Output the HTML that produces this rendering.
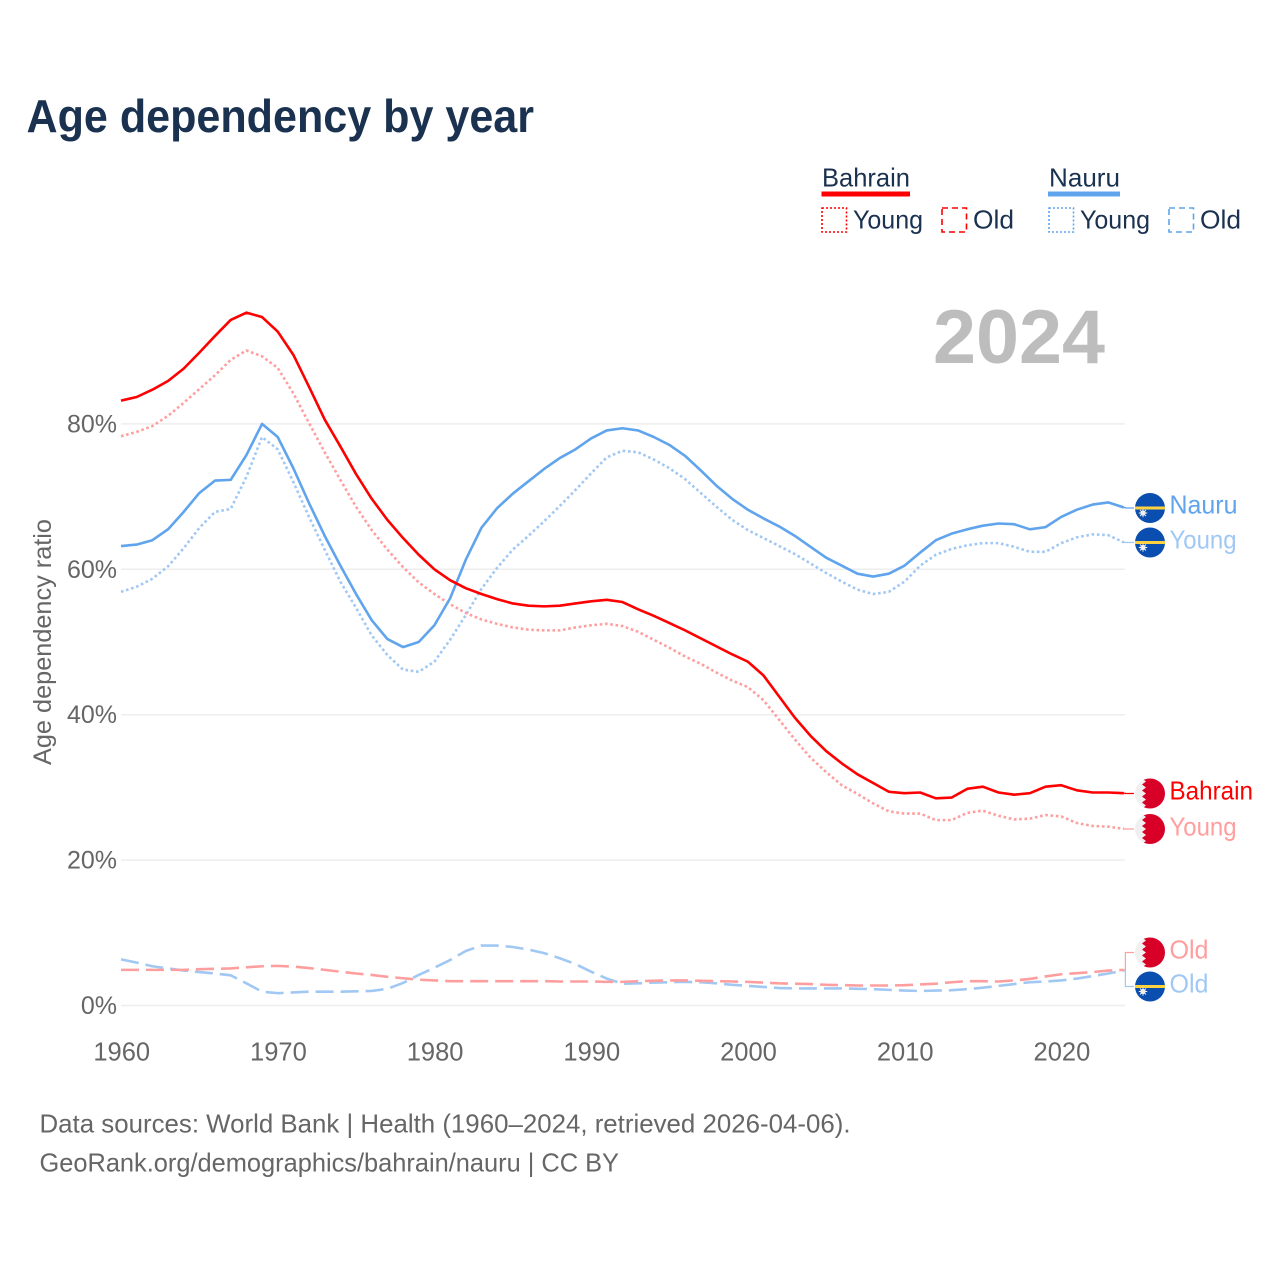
<!DOCTYPE html>
<html lang="en">
<head>
<meta charset="utf-8">
<title>Age dependency by year</title>
<style>
  html, body { margin: 0; padding: 0; background: #fff; }
  svg { display: block; font-family: "Liberation Sans", sans-serif; }
</style>
</head>
<body>
<svg id="chart" width="1280" height="1280" viewBox="0 0 1280 1280" xmlns="http://www.w3.org/2000/svg">
  <defs>
    <clipPath id="flag-clip"><circle cx="0" cy="0" r="15"/></clipPath>
    <symbol id="flag-nauru" overflow="visible">
      <g clip-path="url(#flag-clip)">
        <rect x="-15" y="-15" width="30" height="30" fill="#0a4fb0"/>
        <rect x="-15" y="-1.5" width="30" height="3" fill="#ffd23f"/>
        <circle cx="-7" cy="5" r="2.6" fill="#f0f0f0"/>
        <path d="M-7 0.8V9.2M-11.2 5H-2.8M-10 2L-4 8M-4 2L-10 8" stroke="#f0f0f0" stroke-width="0.9"/>
      </g>
    </symbol>
    <symbol id="flag-bahrain" overflow="visible">
      <g clip-path="url(#flag-clip)">
        <rect x="-15" y="-15" width="30" height="30" fill="#f0f0f0"/>
        <path d="M15 -15V15H-8L-4 12L-8 9L-4 6L-8 3L-4 0L-8 -3L-4 -6L-8 -9L-4 -12L-8 -15Z" fill="#d80027"/>
      </g>
    </symbol>
  </defs>

  <text x="26.5" y="132" font-size="46" font-weight="700" fill="#1a3150" textLength="507.5" lengthAdjust="spacingAndGlyphs">Age dependency by year</text>

  <g>
    <g>
      <text x="822" y="186.5" font-size="26" fill="#1a3150" textLength="88" lengthAdjust="spacingAndGlyphs">Bahrain</text>
      <rect x="821.5" y="191.5" width="88.5" height="5" fill="#ff0000"/>
      <rect x="822" y="208" width="24.5" height="24" fill="none" stroke="#ff0000" stroke-width="1.6" stroke-dasharray="2 2"/>
      <text x="853" y="228.5" font-size="26" fill="#1a3150" textLength="70" lengthAdjust="spacingAndGlyphs">Young</text>
      <rect x="942" y="208" width="24.5" height="24" fill="none" stroke="#ff0000" stroke-width="1.6" stroke-dasharray="6 4"/>
      <text x="973" y="228.5" font-size="26" fill="#1a3150" textLength="41" lengthAdjust="spacingAndGlyphs">Old</text>
    </g>
    <g>
      <text x="1049" y="186.5" font-size="26" fill="#1a3150" textLength="71" lengthAdjust="spacingAndGlyphs">Nauru</text>
      <rect x="1048" y="191.5" width="72" height="5" fill="#5fa4ec"/>
      <rect x="1049" y="208" width="24.5" height="24" fill="none" stroke="#5fa4ec" stroke-width="1.6" stroke-dasharray="2 2"/>
      <text x="1080" y="228.5" font-size="26" fill="#1a3150" textLength="70" lengthAdjust="spacingAndGlyphs">Young</text>
      <rect x="1169" y="208" width="24.5" height="24" fill="none" stroke="#5fa4ec" stroke-width="1.6" stroke-dasharray="6 4"/>
      <text x="1200" y="228.5" font-size="26" fill="#1a3150" textLength="41" lengthAdjust="spacingAndGlyphs">Old</text>
    </g>
  </g>

  <text x="933" y="363" font-size="76" font-weight="700" fill="#bdbdbd" textLength="172" lengthAdjust="spacingAndGlyphs">2024</text>

  <text transform="translate(51 642) rotate(-90)" text-anchor="middle" font-size="25" fill="#666666" textLength="246" lengthAdjust="spacingAndGlyphs">Age dependency ratio</text>

  <g id="grid"></g>
  <g id="y-ticks"></g>
  <g id="x-ticks"></g>
  <g id="series"></g>
  <g id="connectors"></g>

  <g>
    <use href="#flag-nauru" x="1150" y="508"/>
    <use href="#flag-nauru" x="1150" y="542.5"/>
    <use href="#flag-bahrain" x="1150" y="793.5"/>
    <use href="#flag-bahrain" x="1150" y="829"/>
    <use href="#flag-bahrain" x="1150" y="952.5"/>
    <use href="#flag-nauru" x="1150" y="986.5"/>
    <text x="1169.5" y="513.5" font-size="26" fill="#5fa4ec" textLength="68" lengthAdjust="spacingAndGlyphs">Nauru</text>
    <text x="1169.5" y="548.5" font-size="26" fill="#a1c8f3" textLength="67" lengthAdjust="spacingAndGlyphs">Young</text>
    <text x="1169.5" y="799.5" font-size="26" fill="#ff0000" textLength="83.5" lengthAdjust="spacingAndGlyphs">Bahrain</text>
    <text x="1169.5" y="835.5" font-size="26" fill="#ff9e9e" textLength="67" lengthAdjust="spacingAndGlyphs">Young</text>
    <text x="1169.5" y="958.5" font-size="26" fill="#ff9e9e" textLength="39" lengthAdjust="spacingAndGlyphs">Old</text>
    <text x="1169.5" y="992.5" font-size="26" fill="#a1c8f3" textLength="39" lengthAdjust="spacingAndGlyphs">Old</text>
  </g>

  <text x="39.5" y="1132.5" font-size="26" fill="#666666" textLength="811" lengthAdjust="spacingAndGlyphs">Data sources: World Bank | Health (1960–2024, retrieved 2026-04-06).</text>
  <text x="39.5" y="1171.5" font-size="26" fill="#666666" textLength="579.5" lengthAdjust="spacingAndGlyphs">GeoRank.org/demographics/bahrain/nauru | CC BY</text>

<script>
const startYear = 1960;
const xTickYears = [1960, 1970, 1980, 1990, 2000, 2010, 2020];
const yTickValues = [0, 20, 40, 60, 80];

const bahrainTotal = [83.2,83.7,84.7,85.9,87.6,89.8,92.1,94.3,95.3,94.7,92.7,89.5,85.1,80.6,76.9,73.1,69.7,66.8,64.3,62.0,60.0,58.5,57.4,56.6,55.9,55.3,55.0,54.9,55.0,55.3,55.6,55.8,55.5,54.5,53.6,52.6,51.6,50.5,49.4,48.3,47.3,45.4,42.5,39.6,37.1,35.0,33.3,31.8,30.6,29.4,29.2,29.3,28.5,28.6,29.8,30.1,29.3,29.0,29.2,30.1,30.3,29.6,29.3,29.3,29.2];
const bahrainYoung = [78.3,78.9,79.7,81.1,82.9,84.8,86.7,88.8,90.1,89.3,87.7,84.2,80.1,76.1,72.3,68.6,65.4,62.7,60.3,58.2,56.6,55.2,54.0,53.1,52.5,52.0,51.7,51.6,51.6,52.0,52.3,52.5,52.2,51.4,50.3,49.2,48.0,47.0,45.8,44.7,43.8,42.0,39.3,36.6,34.1,32.1,30.3,29.1,27.8,26.7,26.4,26.4,25.5,25.5,26.5,26.8,26.1,25.6,25.7,26.2,26.0,25.1,24.7,24.6,24.3];
const bahrainOld = [4.9,4.9,4.9,4.9,4.9,5.0,5.05,5.1,5.25,5.4,5.45,5.35,5.15,4.9,4.65,4.4,4.2,3.95,3.75,3.55,3.45,3.35,3.35,3.35,3.35,3.35,3.35,3.35,3.3,3.3,3.3,3.25,3.25,3.35,3.4,3.45,3.45,3.4,3.35,3.3,3.25,3.15,3.05,3.0,2.95,2.85,2.8,2.75,2.75,2.75,2.8,2.9,3.0,3.2,3.35,3.35,3.3,3.45,3.65,4.0,4.3,4.45,4.6,4.8,4.9];
const nauruTotal = [63.2,63.4,64.0,65.5,67.9,70.5,72.2,72.3,75.7,80.0,78.2,73.9,69.1,64.6,60.5,56.6,53.0,50.4,49.3,50.0,52.3,56.0,61.3,65.7,68.4,70.4,72.1,73.8,75.3,76.5,78.0,79.1,79.4,79.1,78.2,77.1,75.6,73.6,71.5,69.7,68.2,67.0,65.9,64.6,63.1,61.6,60.5,59.4,59.0,59.4,60.5,62.3,64.0,64.9,65.5,66.0,66.3,66.2,65.5,65.8,67.2,68.2,68.9,69.2,68.5];
const nauruYoung = [56.9,57.6,58.7,60.4,62.9,65.7,67.9,68.3,72.7,78.2,76.5,72.0,67.2,62.7,58.3,54.7,50.9,48.2,46.2,45.9,47.3,50.3,53.7,57.3,60.2,62.7,64.6,66.6,68.7,70.9,73.2,75.4,76.3,76.1,75.1,73.9,72.4,70.5,68.6,66.8,65.4,64.3,63.2,62.1,60.8,59.5,58.3,57.2,56.6,56.9,58.3,60.5,62.0,62.8,63.3,63.6,63.6,63.1,62.4,62.4,63.6,64.4,64.8,64.7,63.7];
const nauruOld = [6.35,5.9,5.4,5.1,4.8,4.6,4.4,4.15,3.05,1.9,1.7,1.8,1.9,1.9,1.9,1.95,2.0,2.3,3.1,4.2,5.2,6.25,7.5,8.25,8.25,8.05,7.7,7.2,6.5,5.7,4.65,3.7,3.0,3.05,3.15,3.2,3.25,3.2,3.05,2.85,2.7,2.55,2.4,2.35,2.35,2.35,2.35,2.3,2.25,2.15,2.05,2.0,2.05,2.1,2.25,2.45,2.7,2.95,3.2,3.3,3.45,3.7,4.05,4.4,4.8];

const svgNS = 'http://www.w3.org/2000/svg';
const xScale = function (year) { return 121 + (year - startYear) * 15.67; };
const yScale = function (pct) { return 1005.5 - pct * 7.27; };
const plotRight = xScale(2024) + 1;

const gridGroup = document.getElementById('grid');
const yTickGroup = document.getElementById('y-ticks');
const xTickGroup = document.getElementById('x-ticks');
const seriesGroup = document.getElementById('series');
const connectorGroup = document.getElementById('connectors');

yTickValues.forEach(function (v) {
  const line = document.createElementNS(svgNS, 'line');
  
  
  line.setAttribute('x1', 121);
  line.setAttribute('x2', plotRight);
  line.setAttribute('y1', yScale(v));
  line.setAttribute('y2', yScale(v));
  line.setAttribute('stroke', '#eeeeee');
  line.setAttribute('stroke-width', '1.5');
  gridGroup.appendChild(line);

  const label = document.createElementNS(svgNS, 'text');
  
  
  label.setAttribute('x', 117);
  label.setAttribute('y', yScale(v) + 8.5);
  label.setAttribute('text-anchor', 'end');
  label.setAttribute('font-size', '25');
  label.setAttribute('fill', '#666666');
  label.textContent = v + '%';
  yTickGroup.appendChild(label);
});

xTickYears.forEach(function (yr) {
  const label = document.createElementNS(svgNS, 'text');
  
  
  label.setAttribute('x', xScale(yr) + 0.7);
  label.setAttribute('y', 1060.5);
  label.setAttribute('text-anchor', 'middle');
  label.setAttribute('font-size', '25.5');
  label.setAttribute('fill', '#666666');
  label.textContent = yr;
  xTickGroup.appendChild(label);
});

function linePath(values) {
  return values.map(function (v, i) {
    return (i ? 'L' : 'M') + xScale(startYear + i).toFixed(2) + ' ' + yScale(v).toFixed(2);
  }).join('');
}

function drawSeries(values, name, color, dash) {
  const path = document.createElementNS(svgNS, 'path');
  
  
  path.setAttribute('d', linePath(values));
  path.setAttribute('fill', 'none');
  path.setAttribute('stroke', color);
  path.setAttribute('stroke-width', '2.6');
  path.setAttribute('stroke-linejoin', 'round');
  if (dash) path.setAttribute('stroke-dasharray', dash);
  seriesGroup.appendChild(path);
}

drawSeries(nauruOld, 'line-nauru-old', '#a1c8f3', '18 7');
drawSeries(bahrainOld, 'line-bahrain-old', '#ff9e9e', '18 7');
drawSeries(nauruYoung, 'line-nauru-young', '#a1c8f3', '2.6 2.7');
drawSeries(bahrainYoung, 'line-bahrain-young', '#ff9e9e', '2.6 2.7');
drawSeries(nauruTotal, 'line-nauru-total', '#5fa4ec', '');
drawSeries(bahrainTotal, 'line-bahrain-total', '#ff0000', '');

function drawConnector(values, flagY, color, name) {
  const endX = xScale(2024);
  const endY = yScale(values[values.length - 1]);
  const path = document.createElementNS(svgNS, 'path');
  
  
  path.setAttribute('d', 'M' + endX + ' ' + endY + 'H' + (endX + 1.5) + 'V' + flagY + 'H1134');
  path.setAttribute('fill', 'none');
  path.setAttribute('stroke', color);
  path.setAttribute('stroke-width', '1.2');
  connectorGroup.appendChild(path);
}

drawConnector(nauruTotal, 508, '#5fa4ec', 'connector-nauru-total');
drawConnector(nauruYoung, 542.5, '#a1c8f3', 'connector-nauru-young');
drawConnector(bahrainTotal, 793.5, '#ff0000', 'connector-bahrain-total');
drawConnector(bahrainYoung, 829, '#ff9e9e', 'connector-bahrain-young');
drawConnector(bahrainOld, 952.5, '#ff9e9e', 'connector-bahrain-old');
drawConnector(nauruOld, 986.5, '#a1c8f3', 'connector-nauru-old');
</script>
</svg>
</body>
</html>
